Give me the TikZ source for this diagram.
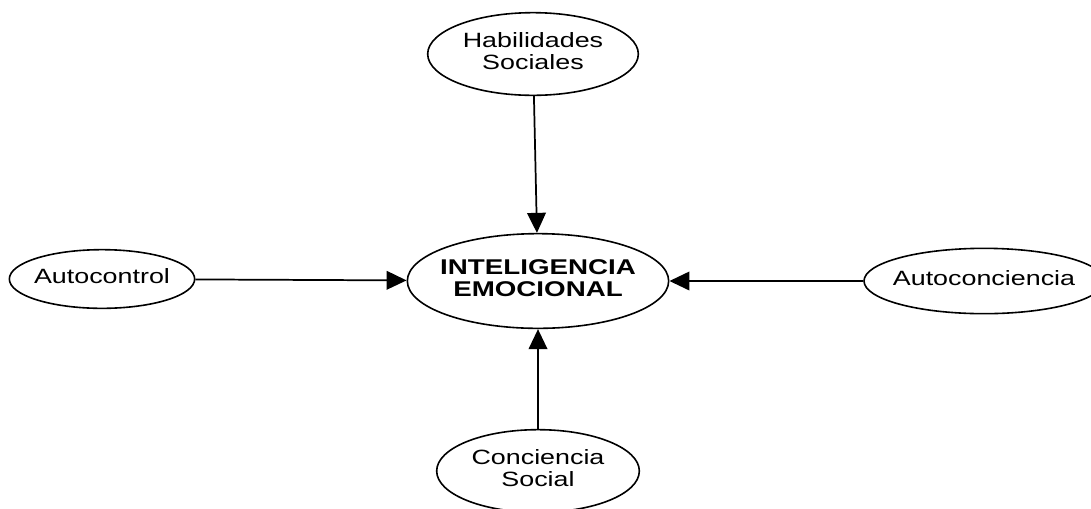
\documentclass[tikz,border=0pt]{standalone}
\usepackage{fontspec}
\setmainfont[FakeStretch=1.3]{Liberation Sans}
\usetikzlibrary{shapes, arrows.meta}
\newcommand{\ovaltext}[1]{\makebox[0pt]{\begin{tabular}{@{}c@{}}#1\end{tabular}}}
\begin{document}
\begin{tikzpicture}[x=0.75pt, y=-0.75pt, font=\fontsize{15.5}{17}\selectfont,
  oval/.style={ellipse, draw, line width=1.2pt, inner sep=0pt},
  link/.style={line width=1.3pt, -{Triangle[length=15pt, width=14pt]}}]
\useasboundingbox (0,0) rectangle (1091,508);
%
\node[oval, minimum width=196pt, minimum height=71pt,
  font=\fontsize{16}{16.5}\selectfont\bfseries] (ie) at (538,281)
  {\ovaltext{INTELIGENCIA\\ EMOCIONAL}};
\node[oval, minimum width=158pt, minimum height=62pt] (hab) at (533,54)
  {\ovaltext{Habilidades\\ Sociales}};
\node[oval, minimum width=139pt, minimum height=44pt] (actrl) at (102,279)
  {\ovaltext{Autocontrol}};
\node[oval, minimum width=180pt, minimum height=49pt] (acon) at (984,281)
  {\ovaltext{Autoconciencia}};
\node[oval, minimum width=152pt, minimum height=62pt] (csoc) at (538,471)
  {\ovaltext{Conciencia\\ Social}};
%
\draw[link] (hab) -- (ie);
\draw[link] (actrl) -- (ie);
\draw[link] (acon) -- (ie);
\draw[link] (csoc) -- (ie);
\end{tikzpicture}
\end{document}
